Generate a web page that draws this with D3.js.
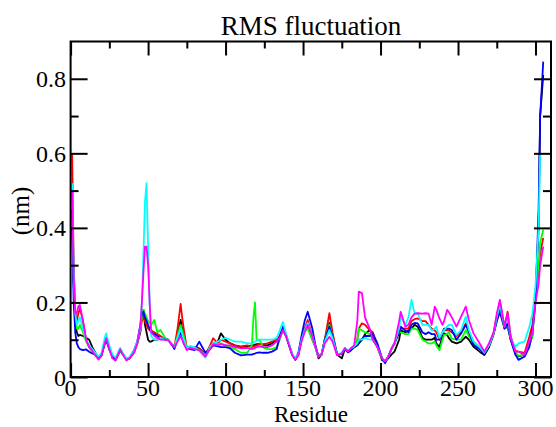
<!DOCTYPE html>
<html><head><meta charset="utf-8">
<script src="https://cdn.jsdelivr.net/npm/d3@7"></script>
<style>body{margin:0;background:#fff}svg{display:block}</style>
</head><body>
<svg id="c" width="556" height="427"></svg>
<script>
const residues = [1,2,3,4,5,6,8,10,12,14,
16,18,20,22,23,25,27,29,32,34,
36,38,41,43,45,46,47,48,49,50,
51,52,54,56,58,61,63,65,67,69,
71,72,73,75,77,80,83,87,90,92,
95,97,100,103,106,110,114,117,118,119,
120,122,124,127,130,133,135,137,139,141,
143,145,147,149,151,153,156,158,160,162,
164,167,169,172,175,177,179,181,183,185,
186,188,190,193,195,198,201,203,205,207,
209,212,213,216,218,220,222,224,227,229,
231,233,235,236,238,240,241,243,244,246,
249,252,255,257,260,264,267,270,273,275,
277,279,280,282,284,287,289,293,296,298,
300,302,303,305];

const blackSeries = [.45,.25,.15,.12,.11,.113,.11,.105,.10,.08,
.065,.052,.06,.09,.10,.075,.055,.048,.07,.06,
.047,.05,.068,.09,.12,.17,.18,.14,.12,.10,
.095,.095,.10,.10,.105,.10,.10,.09,.08,.11,
.153,.13,.11,.077,.08,.08,.077,.06,.08,.09,
.095,.117,.10,.09,.085,.08,.082,.085,.085,.087,
.088,.088,.086,.085,.09,.10,.11,.126,.11,.085,
.06,.046,.06,.10,.125,.135,.10,.08,.05,.06,
.10,.145,.11,.06,.05,.075,.066,.072,.08,.085,
.09,.10,.115,.126,.11,.08,.045,.042,.05,.06,
.068,.10,.125,.12,.125,.13,.14,.135,.105,.10,
.10,.10,.105,.09,.08,.11,.117,.113,.105,.095,
.09,.095,.108,.10,.081,.068,.059,.08,.115,.15,
.175,.145,.13,.135,.10,.065,.055,.06,.085,.11,
.22,.40,.70,.81];

const redSeries = [.60,.30,.18,.15,.17,.185,.15,.10,.08,.07,
.06,.048,.058,.09,.10,.075,.052,.045,.072,.06,
.046,.05,.066,.09,.125,.15,.16,.15,.14,.13,
.125,.125,.12,.115,.11,.10,.10,.09,.08,.13,
.196,.16,.13,.077,.082,.08,.075,.06,.085,.104,
.09,.10,.095,.09,.085,.082,.085,.08,.082,.083,
.085,.088,.088,.09,.095,.10,.11,.13,.11,.085,
.06,.047,.06,.10,.13,.153,.11,.08,.055,.062,
.10,.171,.12,.06,.063,.077,.068,.075,.081,.10,
.13,.144,.14,.126,.12,.08,.05,.042,.055,.075,
.09,.12,.13,.13,.13,.15,.155,.157,.15,.15,
.14,.13,.125,.12,.10,.12,.125,.126,.125,.12,
.11,.12,.144,.12,.095,.08,.065,.085,.118,.16,
.202,.155,.135,.175,.11,.07,.068,.065,.108,.14,
.22,.28,.33,.373];

const greenSeries = [.42,.25,.15,.13,.13,.14,.12,.095,.08,.07,
.06,.05,.06,.09,.10,.075,.055,.047,.07,.06,
.046,.05,.068,.09,.13,.16,.18,.17,.16,.15,
.145,.14,.153,.12,.126,.105,.10,.09,.08,.11,
.14,.125,.11,.077,.08,.078,.072,.06,.08,.09,
.088,.09,.085,.08,.075,.065,.065,.085,.16,.20,
.10,.10,.08,.075,.075,.08,.10,.125,.11,.085,
.06,.048,.06,.10,.12,.13,.10,.08,.055,.06,
.10,.14,.11,.06,.063,.077,.07,.075,.08,.10,
.13,.125,.12,.115,.10,.08,.05,.042,.055,.075,
.09,.12,.12,.115,.115,.13,.13,.126,.10,.095,
.09,.09,.095,.085,.072,.10,.113,.115,.12,.103,
.10,.10,.126,.11,.09,.075,.065,.085,.118,.155,
.184,.15,.13,.14,.10,.065,.057,.06,.085,.11,
.21,.30,.36,.395];

const blueSeries = [.40,.20,.12,.09,.08,.075,.072,.074,.068,.063,
.06,.052,.06,.09,.10,.075,.055,.048,.072,.06,
.048,.052,.072,.095,.14,.17,.175,.16,.15,.14,
.13,.12,.115,.11,.105,.10,.10,.088,.075,.10,
.12,.105,.09,.077,.075,.072,.095,.065,.075,.085,
.082,.08,.08,.077,.065,.058,.06,.06,.062,.063,
.065,.066,.065,.065,.068,.075,.11,.135,.115,.085,
.06,.048,.065,.11,.15,.175,.13,.085,.055,.062,
.10,.135,.11,.06,.062,.075,.068,.073,.08,.085,
.10,.10,.11,.11,.117,.09,.05,.037,.055,.075,
.09,.12,.135,.125,.12,.14,.145,.144,.12,.115,
.12,.115,.115,.10,.10,.12,.13,.13,.13,.126,
.10,.117,.14,.122,.086,.075,.062,.085,.118,.15,
.18,.15,.13,.144,.10,.06,.046,.055,.08,.126,
.20,.45,.70,.846];

const cyanSeries = [.52,.28,.17,.14,.15,.16,.13,.10,.085,.075,
.065,.055,.065,.105,.117,.085,.06,.052,.078,.062,
.05,.053,.07,.095,.13,.20,.33,.47,.52,.35,
.20,.11,.10,.10,.105,.10,.10,.09,.08,.105,
.13,.115,.10,.077,.082,.08,.07,.052,.08,.09,
.095,.10,.105,.10,.095,.095,.09,.09,.092,.095,
.097,.10,.10,.10,.10,.105,.125,.148,.115,.09,
.062,.05,.062,.10,.125,.145,.11,.08,.055,.062,
.095,.126,.105,.059,.065,.078,.07,.077,.082,.09,
.10,.10,.105,.10,.10,.08,.05,.042,.055,.075,
.09,.13,.162,.14,.16,.207,.17,.171,.14,.14,
.14,.125,.13,.135,.105,.12,.126,.135,.14,.14,
.113,.126,.162,.126,.095,.08,.065,.085,.118,.16,
.193,.155,.135,.162,.105,.08,.09,.095,.135,.17,
.243,.40,.596,null];

const magentaSeries = [.50,.27,.17,.17,.19,.193,.15,.10,.08,.07,
.058,.047,.058,.09,.104,.075,.05,.044,.074,.058,
.045,.05,.066,.09,.135,.20,.28,.35,.35,.30,
.20,.12,.11,.105,.10,.10,.098,.088,.08,.095,
.11,.10,.09,.072,.078,.075,.072,.055,.075,.088,
.085,.088,.085,.085,.08,.077,.078,.075,.076,.078,
.08,.082,.08,.08,.085,.095,.105,.126,.11,.085,
.058,.046,.058,.095,.12,.14,.11,.08,.055,.06,
.09,.108,.095,.058,.063,.077,.068,.078,.085,.15,
.229,.225,.16,.13,.10,.08,.05,.042,.055,.075,
.09,.15,.175,.135,.14,.16,.17,.171,.17,.171,
.17,.14,.189,.18,.157,.14,.15,.18,.175,.16,
.135,.162,.189,.153,.117,.09,.068,.09,.12,.17,
.207,.16,.135,.171,.105,.068,.068,.06,.095,.12,
.20,.25,.30,.35];

const seriesList = [blackSeries, redSeries, greenSeries, blueSeries, cyanSeries, magentaSeries];
const seriesColors = ["#000000","#ff0000","#00ff00","#0000ff","#00ffff","#ff00ff"];
const xMajor = [0,50,100,150,200,250,300];
const xMinor = [25,75,125,175,225,275];
const yMajor = [0,0.2,0.4,0.6,0.8];
const yMinor = [0.1,0.3,0.5,0.7];
const xTickLabels = ["0","50","100","150","200","250","300"];
const yTickLabels = ["0","0.2","0.4","0.6","0.8"];

const svg = d3.select("#c");
const L = 70.6, R = 551, T = 41.5, B = 377;
const x = d3.scaleLinear().domain([0,310]).range([L,R]);
const y = d3.scaleLinear().domain([0,0.9]).range([B,T]);
const font = "'Liberation Serif','Times New Roman',serif";

svg.append("defs").append("clipPath").attr("id","clip")
  .append("rect").attr("x",L).attr("y",T).attr("width",R-L).attr("height",B-T);

const g = svg.append("g").attr("clip-path","url(#clip)");
const line = d3.line()
  .defined(d => d[1] != null)
  .x(d => x(d[0])).y(d => y(d[1]));
seriesList.forEach((s,i) => {
  g.append("path")
    .datum(residues.map((r,j) => [r, s[j]]))
    .attr("fill","none")
    .attr("stroke",seriesColors[i])
    .attr("stroke-width",1.8)
    .attr("stroke-linejoin","round")
    .attr("d",line);
});

function addAxis(gen, tx, ty){
  const a = svg.append("g").attr("transform",`translate(${tx},${ty})`).call(gen);
  a.select(".domain").remove();
  a.selectAll("text").remove();
  a.selectAll("line").attr("stroke","#000").attr("stroke-width",2);
}
addAxis(d3.axisBottom(x).tickValues(xMajor).tickSize(-14), 0, B);
addAxis(d3.axisBottom(x).tickValues(xMinor).tickSize(-7), 0, B);
addAxis(d3.axisTop(x).tickValues(xMajor).tickSize(-14), 0, T);
addAxis(d3.axisTop(x).tickValues(xMinor).tickSize(-7), 0, T);
addAxis(d3.axisLeft(y).tickValues(yMajor).tickSize(-17), L, 0);
addAxis(d3.axisLeft(y).tickValues(yMinor).tickSize(-8), L, 0);
addAxis(d3.axisRight(y).tickValues(yMajor).tickSize(-17), R, 0);
addAxis(d3.axisRight(y).tickValues(yMinor).tickSize(-8), R, 0);

svg.append("rect").attr("x",L).attr("y",T).attr("width",R-L).attr("height",B-T)
  .attr("fill","none").attr("stroke","#000").attr("stroke-width",2);

svg.append("g").selectAll("text").data(xMajor).join("text")
  .attr("x", d => x(d)).attr("y", 395.5)
  .attr("text-anchor","middle").attr("font-family",font).attr("font-size",24)
  .text((d,i) => xTickLabels[i]);
svg.append("g").selectAll("text").data(yMajor).join("text")
  .attr("x", 66).attr("y", d => y(d) + 8.5)
  .attr("text-anchor","end").attr("font-family",font).attr("font-size",24)
  .text((d,i) => yTickLabels[i]);

svg.append("text").attr("x",311).attr("y",35).attr("text-anchor","middle")
  .attr("font-family",font).attr("font-size",27).text("RMS fluctuation");
svg.append("text").attr("x",311).attr("y",421.5).attr("text-anchor","middle")
  .attr("font-family",font).attr("font-size",23).text("Residue");
svg.append("text").attr("transform","translate(29,211) rotate(-90)").attr("text-anchor","middle")
  .attr("font-family",font).attr("font-size",25).text("(nm)");
</script>
</body></html>
